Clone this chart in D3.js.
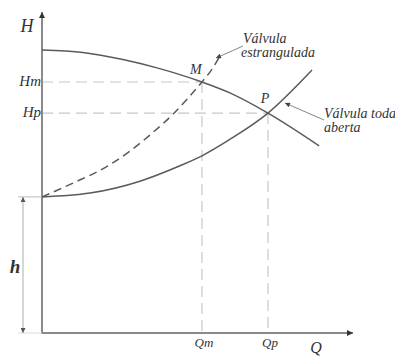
<!DOCTYPE html>
<html><head><meta charset="utf-8">
<script src="https://cdn.jsdelivr.net/npm/d3@7"></script>
<style>
html,body{margin:0;padding:0;background:#fff;}
svg{display:block;}
</style></head>
<body>
<script>
// Data (arbitrary units: Q 0-100, H 0-100)
const pumpQ = [0, 13.2, 26.1, 37.1, 51.6, 60.6, 72.9, 89.4];
const pumpH = [88.2, 87.4, 85.2, 82.6, 78.2, 74.8, 68.5, 58.3];
const systemQ = [0, 15.5, 31.6, 44.5, 51.6, 60.6, 72.9, 87.1];
const systemH = [42.4, 43.6, 47.3, 52.1, 55.2, 60.3, 68.5, 81.9];
const throttledQ = [0, 10.0, 21.0, 28.4, 35.8, 42.3, 47.7, 51.6, 55.2, 57.7];
const throttledH = [42.4, 46.7, 51.9, 56.7, 62.5, 68.2, 73.8, 78.2, 82.7, 86.8];
const pointNames = ["M", "P"];
const pointQ = [51.6, 72.9];
const pointH = [78.2, 68.5];
const staticHead = 42.4;

const FONT = "Liberation Serif";
const W = 395, H = 358;
const x = d3.scaleLinear().domain([0, 100]).range([42, 352]);
const y = d3.scaleLinear().domain([0, 100]).range([333, 12]);

const svg = d3.select("body").append("svg").attr("width", W).attr("height", H);

const defs = svg.append("defs");
defs.append("marker").attr("id","arr").attr("viewBox","0 0 10 10").attr("refX",10).attr("refY",5)
  .attr("markerWidth",10).attr("markerHeight",6).attr("markerUnits","userSpaceOnUse").attr("orient","auto")
  .append("path").attr("d","M0,0L10,5L0,10Z").attr("fill","#333");
defs.append("marker").attr("id","arrSmall").attr("viewBox","0 0 10 10").attr("refX",10).attr("refY",5)
  .attr("markerWidth",8).attr("markerHeight",5).attr("markerUnits","userSpaceOnUse").attr("orient","auto")
  .append("path").attr("d","M0,0L10,5L0,10Z").attr("fill","#444");
defs.append("marker").attr("id","dimArr").attr("viewBox","0 0 10 10").attr("refX",10).attr("refY",5)
  .attr("markerWidth",9).attr("markerHeight",5).attr("markerUnits","userSpaceOnUse").attr("orient","auto")
  .append("path").attr("d","M0,0L10,5L0,10Z").attr("fill","#555");

// guide dashed lines
const guide = "#c8c8c8";
pointQ.forEach((q, i) => {
  svg.append("line").attr("x1", x(0)).attr("x2", x(q)).attr("y1", y(pointH[i])).attr("y2", y(pointH[i]))
    .attr("stroke", guide).attr("stroke-width", 1.2).attr("stroke-dasharray", "11,6");
  svg.append("line").attr("x1", x(q)).attr("x2", x(q)).attr("y1", y(pointH[i])).attr("y2", y(0))
    .attr("stroke", guide).attr("stroke-width", 1.2).attr("stroke-dasharray", "11,6");
});

// axes
svg.append("line").attr("x1", x(0)).attr("y1", y(0)).attr("x2", x(0)).attr("y2", y(100))
  .attr("stroke", "#8a8a8a").attr("stroke-width", 2).attr("marker-end", "url(#arr)");
svg.append("line").attr("x1", x(0)-1).attr("y1", y(0)).attr("x2", x(100)+1).attr("y2", y(0))
  .attr("stroke", "#8a8a8a").attr("stroke-width", 2).attr("marker-end", "url(#arr)");

// curves
const line = d3.line().x(d => x(d[0])).y(d => y(d[1])).curve(d3.curveMonotoneX);
const zip = (a, b) => a.map((v, i) => [v, b[i]]);
svg.append("path").attr("d", line(zip(pumpQ, pumpH))).attr("fill","none").attr("stroke","#5a5a5a").attr("stroke-width",1.5);
svg.append("path").attr("d", line(zip(systemQ, systemH))).attr("fill","none").attr("stroke","#5a5a5a").attr("stroke-width",1.5);
svg.append("path").attr("d", line(zip(throttledQ, throttledH))).attr("fill","none").attr("stroke","#5a5a5a")
  .attr("stroke-width",1.5).attr("stroke-dasharray","8,5");

// h dimension
const dimX = 23;
svg.append("line").attr("x1", 18).attr("x2", x(0)).attr("y1", y(staticHead)).attr("y2", y(staticHead)).attr("stroke","#bbb").attr("stroke-width",1);
svg.append("line").attr("x1", 18).attr("x2", x(0)).attr("y1", y(0)).attr("y2", y(0)).attr("stroke","#ddd").attr("stroke-width",1);
svg.append("line").attr("x1", dimX).attr("x2", dimX).attr("y1", y(staticHead)+5).attr("y2", y(staticHead))
  .attr("stroke","#999").attr("stroke-width",0.8).attr("marker-end","url(#dimArr)");
svg.append("line").attr("x1", dimX).attr("x2", dimX).attr("y1", y(staticHead)+5).attr("y2", y(0)-5)
  .attr("stroke","#999").attr("stroke-width",0.8);
svg.append("line").attr("x1", dimX).attr("x2", dimX).attr("y1", y(0)-5).attr("y2", y(0))
  .attr("stroke","#999").attr("stroke-width",0.8).attr("marker-end","url(#dimArr)");

function label(xp, yp, txt, size, anchor, bold) {
  return svg.append("text").attr("x", xp).attr("y", yp).attr("text-anchor", anchor || "start")
    .style("font-family", FONT).style("font-style", "italic").style("font-weight", bold ? "bold" : "normal")
    .style("font-size", size + "px").attr("fill", "#333").text(txt);
}

label(15, 273, "h", 19, "middle", true);

// axis labels
label(27, 32, "H", 18, "middle");
label(316, 353, "Q", 16, "middle");

// Hm, Hp, Qm, Qp labels
const subs = ["m", "p"];
pointQ.forEach((q, i) => {
  label(x(0) - 1, y(pointH[i]) + 4, "H" + subs[i], 15, "end");
  label(x(q) + 2, 347, "Q" + subs[i], 13, "middle");
});

// point labels
label(x(pointQ[0]) - 6, y(pointH[0]) - 8, pointNames[0], 14, "middle");
label(x(pointQ[1]) - 3, y(pointH[1]) - 10, pointNames[1], 14, "middle");

// annotations
svg.append("line").attr("x1", 243).attr("y1", 46).attr("x2", 216).attr("y2", 58)
  .attr("stroke","#777").attr("stroke-width",0.9).attr("marker-end","url(#arrSmall)");
label(243, 43, "Válvula", 14);
label(241, 57, "estrangulada", 14);

svg.append("line").attr("x1", 324).attr("y1", 120).attr("x2", 285).attr("y2", 103)
  .attr("stroke","#777").attr("stroke-width",0.9).attr("marker-end","url(#arrSmall)");
label(324, 118, "Válvula toda", 14);
label(324, 132, "aberta", 14);
</script>
</body></html>
